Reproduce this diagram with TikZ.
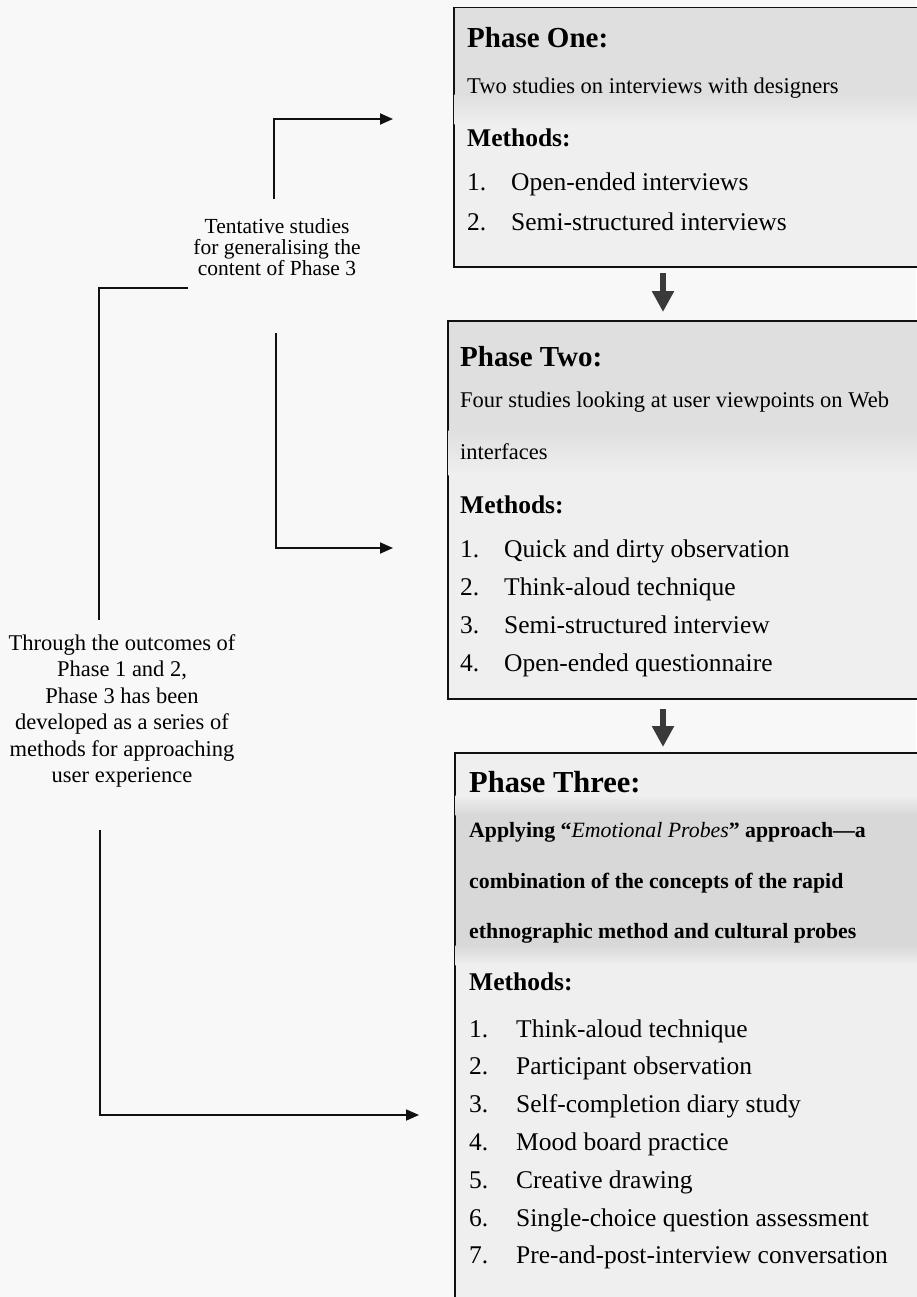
\documentclass[tikz,border=0pt]{standalone}
\usepackage{fontspec}
\setmainfont{Liberation Serif}
\usetikzlibrary{arrows.meta,calc}

\definecolor{paper}{HTML}{F8F8F8}
\definecolor{boxlight}{HTML}{EFEFEF}
\definecolor{boxdark}{HTML}{DFDFDF}
\definecolor{bandgray}{HTML}{D8D8D8}
\definecolor{ink}{HTML}{111111}
\definecolor{blockarrow}{HTML}{3A3A3A}

\tikzset{
  panel/.style={draw=ink, line width=1.6pt, fill=boxlight, anchor=north west, inner sep=0pt},
  heading/.style={anchor=base west, inner sep=0pt, font=\fontsize{29}{34}\selectfont\bfseries},
  bigheading/.style={anchor=base west, inner sep=0pt, font=\fontsize{30.5}{35}\selectfont\bfseries},
  desc/.style={anchor=base west, inner sep=0pt, font=\fontsize{22.5}{26}\selectfont},
  bolddesc/.style={anchor=base west, inner sep=0pt, font=\fontsize{21.8}{26}\selectfont\bfseries},
  methods/.style={anchor=base west, inner sep=0pt, font=\fontsize{25.5}{30}\selectfont\bfseries},
  entry/.style={anchor=base west, inner sep=0pt, font=\fontsize{25.5}{30}\selectfont},
  note/.style={align=center, inner sep=0pt, font=\fontsize{21.5}{21}\selectfont},
  widenote/.style={align=center, inner sep=0pt, font=\fontsize{22.5}{26.4}\selectfont},
  link/.style={draw=ink, line width=1.8pt},
  linkarrow/.style={link, -{Triangle[length=13pt,width=11pt]}},
  flow/.style={draw=blockarrow, line width=6.5pt, -{Triangle[length=21pt,width=21pt]}},
}

\begin{document}
\begin{tikzpicture}[x=1pt,y=-1pt]
\fill[paper] (0,0) rectangle (916,1297);
\useasboundingbox (0,0) rectangle (916,1297);

% ---------- panels ----------
\node[panel, minimum width=480pt, minimum height=259pt] (one) at (453,7) {};
\fill[boxdark] (454.5,8.5) rectangle (935,95);
\shade[top color=boxdark, bottom color=boxlight] (454.5,95) rectangle (935,125);

\node[panel, minimum width=490pt, minimum height=378pt] (two) at (447,320) {};
\fill[boxdark] (448.5,321.5) rectangle (935,430);
\shade[top color=boxdark, bottom color=boxlight] (448.5,430) rectangle (935,475);

\node[panel, minimum width=480pt, minimum height=560pt] (three) at (454,752) {};
\shade[top color=boxlight, bottom color=bandgray] (455.5,795) rectangle (935,815);
\fill[bandgray] (455.5,815) rectangle (935,945);
\shade[top color=bandgray, bottom color=boxlight] (455.5,945) rectangle (935,965);

% ---------- Phase One ----------
\node[heading] (oneh) at (467,48) {Phase One:};
\node[desc] (oned) at (467,94) {Two studies on interviews with designers};
\node[methods] (onem) at (467,147) {Methods:};
\node[entry] (onen1) at (467,191) {1.};
\node[entry] (onet1) at (511,191) {Open-ended interviews};
\node[entry] (onen2) at (467,231) {2.};
\node[entry] (onet2) at (511,231) {Semi-structured interviews};

% ---------- Phase Two ----------
\node[heading] (twoh) at (460,366) {Phase Two:};
\node[desc] (twod1) at (460,407) {Four studies looking at user viewpoints on Web};
\node[desc] (twod2) at (460,459) {interfaces};
\node[methods] (twom) at (460,513) {Methods:};
\node[entry] (twon1) at (460,557) {1.};
\node[entry] (twot1) at (504,557) {Quick and dirty observation};
\node[entry] (twon2) at (460,595) {2.};
\node[entry] (twot2) at (504,595) {Think-aloud technique};
\node[entry] (twon3) at (460,633) {3.};
\node[entry] (twot3) at (504,633) {Semi-structured interview};
\node[entry] (twon4) at (460,671) {4.};
\node[entry] (twot4) at (504,671) {Open-ended questionnaire};

% ---------- Phase Three ----------
\node[bigheading] (threeh) at (469,792) {Phase Three:};
\node[bolddesc] (threed1) at (469,837) {Applying “{\mdseries\itshape Emotional Probes}” approach\textemdash a};
\node[bolddesc] (threed2) at (469,888) {combination of the concepts of the rapid};
\node[bolddesc] (threed3) at (469,938) {ethnographic method and cultural probes};
\node[methods] (threem) at (469,990) {Methods:};
\foreach \n/\t [count=\k from 0] in {1/Think-aloud technique,
    2/Participant observation,
    3/Self-completion diary study,
    4/Mood board practice,
    5/Creative drawing,
    6/Single-choice question assessment,
    7/Pre-and-post-interview conversation}{
  \node[entry] (threen\n) at (469,1037+37.8*\k) {\n.};
  \node[entry] (threet\n) at (516,1037+37.8*\k) {\t};
}

% ---------- flow between phases ----------
\coordinate (f1s) at (663,273);
\coordinate (f1e) at (663,312);
\coordinate (f2s) at (663,709);
\coordinate (f2e) at (663,747);
\draw[flow] (f1s) -- (f1e);
\draw[flow] (f2s) -- (f2e);

% ---------- side notes ----------
\node[note] (tent) at (277,247) {Tentative studies\\for generalising the\\content of Phase 3};
\node[widenote] (through) at (122,711) {Through the outcomes of\\Phase 1 and 2,\\Phase 3 has been\\developed as a series of\\methods for approaching\\user experience};

% ---------- side connectors ----------
\coordinate (tentup) at (274,199);
\coordinate (toone) at (393,119);
\coordinate (tentdown) at (276,333);
\coordinate (totwo) at (393,548);
\coordinate (tentleft) at (188,288);
\coordinate (throughtop) at (99,620);
\coordinate (throughdown) at (100,830);
\coordinate (tothree) at (419,1115);

\draw[linkarrow] (tentup) |- (toone);
\draw[linkarrow] (tentdown) |- (totwo);
\draw[link] (tentleft) -| (throughtop);
\draw[linkarrow] (throughdown) |- (tothree);
\end{tikzpicture}
\end{document}
